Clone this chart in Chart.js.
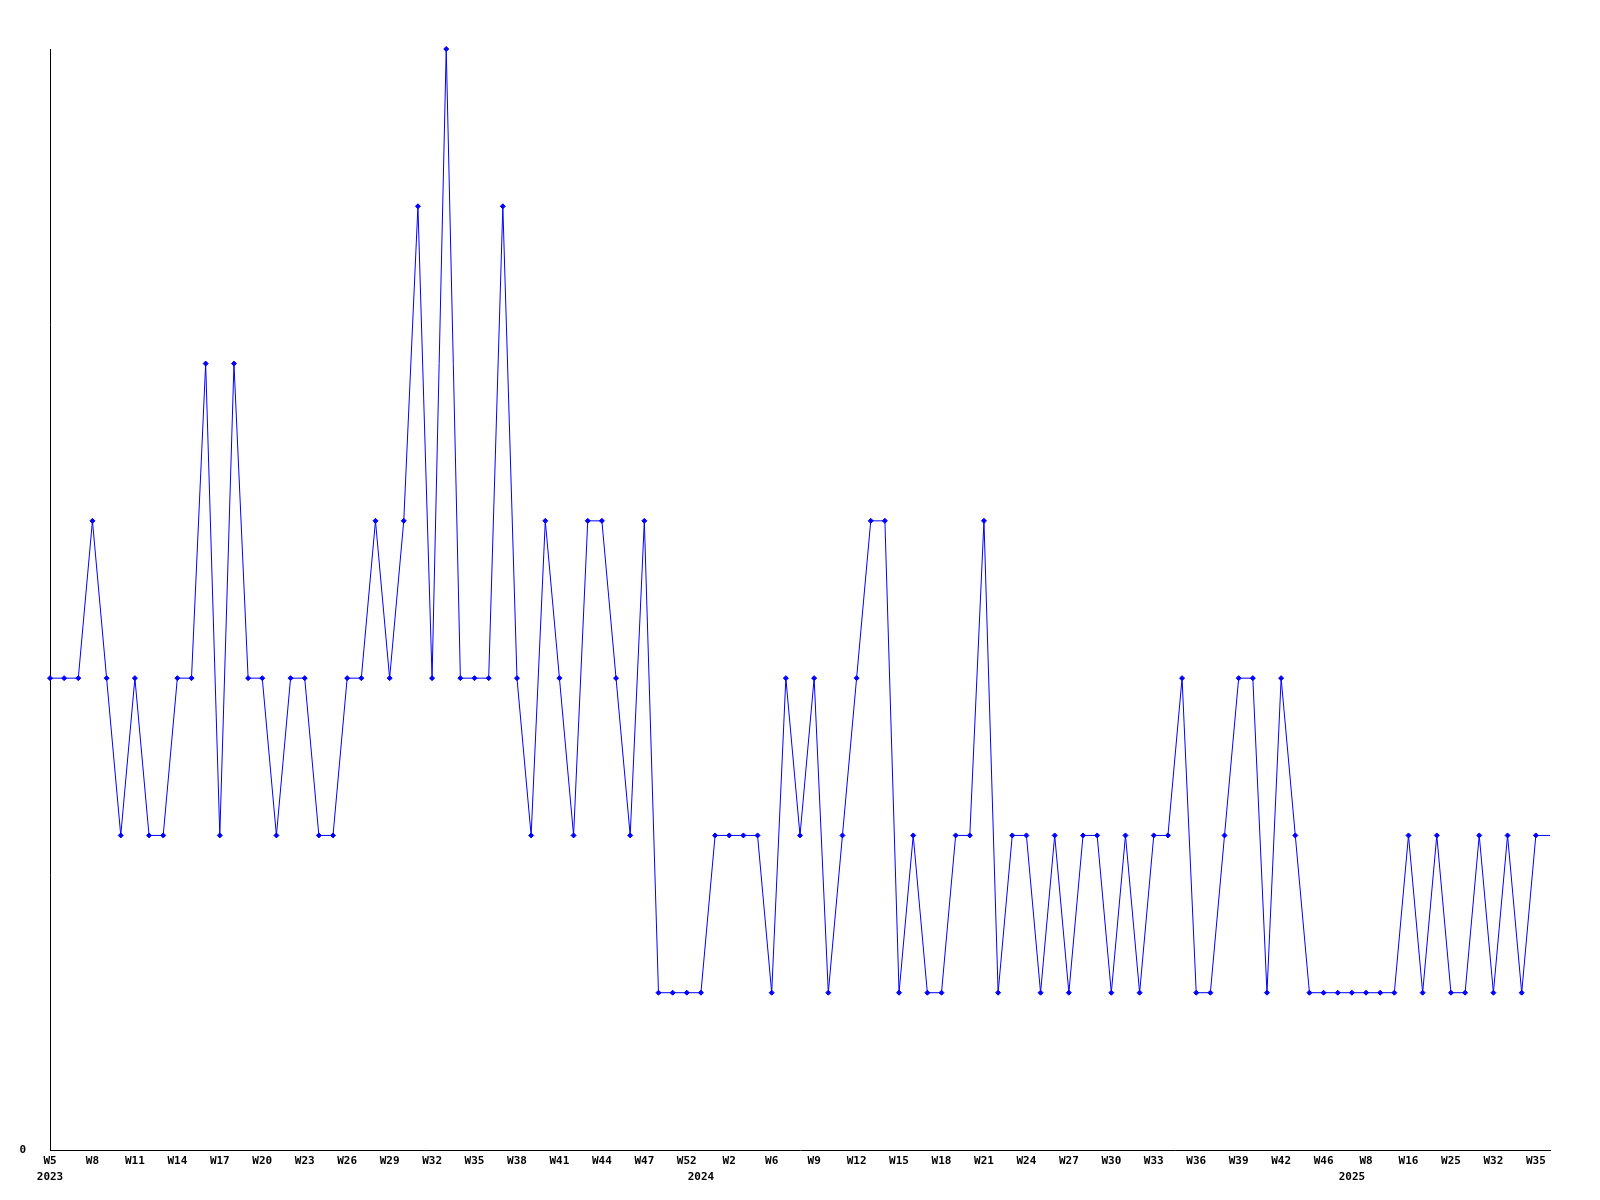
<!DOCTYPE html>
<html>
<head>
<meta charset="utf-8">
<script src="https://cdn.jsdelivr.net/npm/chart.js@4/dist/chart.umd.min.js"></script>
<style>
  body { margin: 0; background: #fff; }
  #wrap { width: 1600px; height: 1200px; }
</style>
</head>
<body>
<div id="wrap"><canvas id="semanas" width="1600" height="1200"></canvas></div>
<script>
// semanas (categorias), na ordem em que aparecem no eixo X
var semanas = [
    'W5', 'W6', 'W7', 'W8', 'W9', 'W10', 'W11', 'W12', 'W13', 'W14',
    'W15', 'W16', 'W17', 'W18', 'W19', 'W20', 'W21', 'W22', 'W23', 'W24',
    'W25', 'W26', 'W27', 'W28', 'W29', 'W30', 'W31', 'W32', 'W33', 'W34',
    'W35', 'W36', 'W37', 'W38', 'W39', 'W40', 'W41', 'W42', 'W43', 'W44',
    'W45', 'W46', 'W47', 'W49', 'W51', 'W52',
    'W0', 'W1', 'W2', 'W3', 'W5', 'W6', 'W7', 'W8', 'W9', 'W10',
    'W11', 'W12', 'W13', 'W14', 'W15', 'W16', 'W17', 'W18', 'W19', 'W20',
    'W21', 'W22', 'W23', 'W24', 'W25', 'W26', 'W27', 'W28', 'W29', 'W30',
    'W31', 'W32', 'W33', 'W34', 'W35', 'W36', 'W37', 'W38', 'W39', 'W40',
    'W41', 'W42', 'W43', 'W44', 'W46', 'W49',
    'W3', 'W8', 'W11', 'W14', 'W16', 'W19', 'W22', 'W25', 'W27', 'W30',
    'W32', 'W33', 'W34', 'W35', 'W36'
];

var valores = [
    3, 3, 3, 4, 3, 2, 3, 2, 2, 3,
    3, 5, 2, 5, 3, 3, 2, 3, 3, 2,
    2, 3, 3, 4, 3, 4, 6, 3, 7, 3,
    3, 3, 6, 3, 2, 4, 3, 2, 4, 4,
    3, 2, 4, 1, 1, 1, 1, 2, 2, 2,
    2, 1, 3, 2, 3, 1, 2, 3, 4, 4,
    1, 2, 1, 1, 2, 2, 4, 1, 2, 2,
    1, 2, 1, 2, 2, 1, 2, 1, 2, 2,
    3, 1, 1, 2, 3, 3, 1, 3, 2, 1,
    1, 1, 1, 1, 1, 1, 2, 1, 2, 1,
    1, 2, 1, 2, 1, 2, 2
];

// anos e o índice da primeira semana de cada um
var anos = ['2023', '2024', '2025'];
var inicioAno = [0, 46, 92];

var fonteEixo = { family: 'DejaVu Sans Mono', size: 11, weight: 'bold', lineHeight: '16px' };

var ctx = document.getElementById('semanas').getContext('2d');

var semanasChart = new Chart(ctx, {
    type: 'line',
    data: {
        labels: semanas,
        datasets: [{
            data: valores,
            borderColor: '#0000ff',
            backgroundColor: '#0000ff',
            borderWidth: 1,
            fill: false,
            tension: 0,
            clip: false, // o pico no topo aparece inteiro
            pointStyle: 'rectRot',
            pointRadius: function (c) {
                return c.dataIndex === valores.length - 1 ? 0 : 2.5; // último ponto fica na borda
            },
            pointBorderWidth: 1
        }]
    },
    options: {
        responsive: false,
        animation: false,
        layout: {
            padding: { top: 49, right: 50, left: 0, bottom: 0 }
        },
        plugins: {
            legend: { display: false },
            tooltip: { enabled: false }
        },
        scales: {
            x: {
                offset: false,
                grid: { display: false, drawTicks: false },
                border: { display: true, color: '#000', width: 1 },
                ticks: {
                    autoSkip: false,
                    maxRotation: 0,
                    padding: 3,
                    color: '#000',
                    font: fonteEixo,
                    callback: function (val, i) {
                        var semana = i % 3 === 0 ? semanas[i] : '';
                        var k = inicioAno.indexOf(i);
                        var ano = k >= 0 ? anos[k] : '';
                        if (!semana && !ano) return '';
                        return [semana, ano];
                    }
                },
                afterFit: function (scale) { scale.height = 50; }
            },
            y: {
                min: 0,
                max: 7,
                grid: { display: false, drawTicks: false },
                border: { display: true, color: '#000', width: 1 },
                ticks: {
                    stepSize: 1,
                    padding: 24,
                    color: '#000',
                    font: fonteEixo,
                    callback: function (v) { return v === 0 ? '0' : ''; }
                },
                afterFit: function (scale) { scale.width = 50; }
            }
        }
    }
});
</script>
</body>
</html>
